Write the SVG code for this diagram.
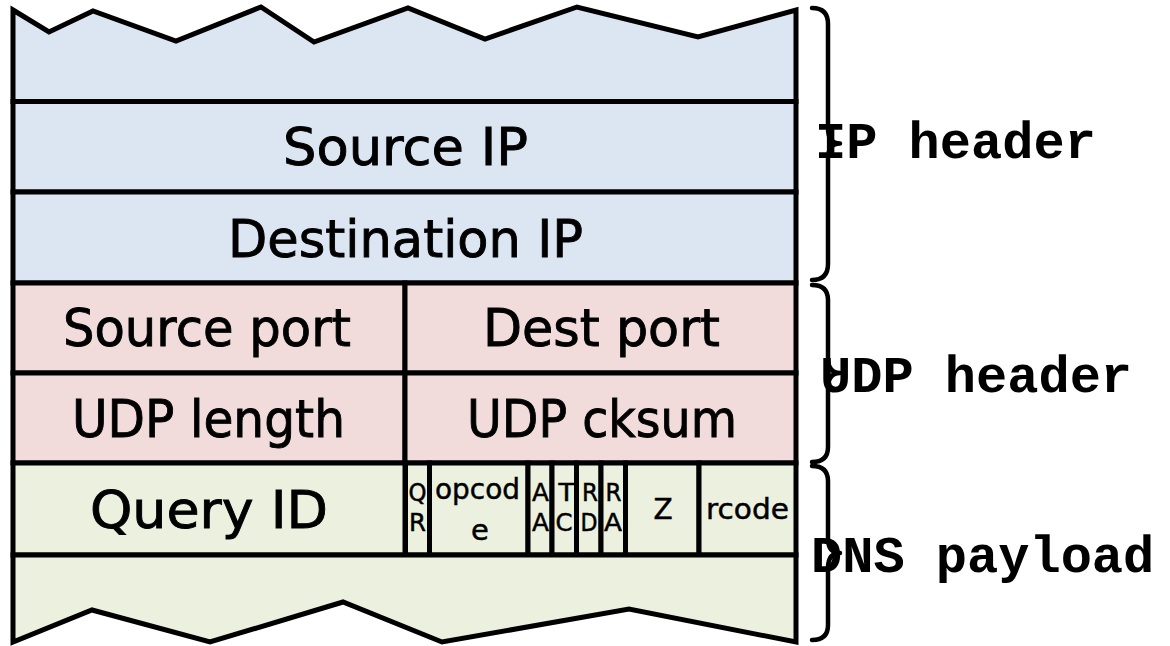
<svg xmlns="http://www.w3.org/2000/svg" width="1170" height="646" viewBox="0 0 1170 646">
  <style>
    .cell { stroke: #000; stroke-width: 5; stroke-linejoin: miter; }
    .ip { fill: #DCE6F2; }
    .udp { fill: #F2DCDB; }
    .dns { fill: #EBF1DE; }
    .lbl { font-family: "DejaVu Sans", "Noto Sans", sans-serif; font-size: 52px; fill: #000; stroke: #000; stroke-width: 0.9; text-anchor: middle; }
    .flag { font-family: "DejaVu Sans", "Noto Sans", sans-serif; font-size: 29px; fill: #000; stroke: #000; stroke-width: 0.5; text-anchor: middle; }
    .bit { font-family: "DejaVu Sans", "Noto Sans", sans-serif; font-size: 24.5px; fill: #000; stroke: #000; stroke-width: 0.5; text-anchor: middle; }
    .brace { fill: none; stroke: #000; stroke-width: 4.5; stroke-linecap: round; stroke-linejoin: round; }
    .tag { font-family: "Liberation Mono", "Courier New", monospace; font-size: 52px; font-weight: bold; fill: #000; }
  </style>

  <!-- IP header -->
  <g id="ip-rest">
    <polygon class="cell ip" points="13,10 49,32 93,11 176,41 261,7 314,42 408,8 485,39 577,7 698,37 796,10 796,101.5 13,101.5"/>
  </g>
  <g id="source-ip">
    <rect class="cell ip" x="13" y="101.5" width="783" height="90.5"/>
    <text class="lbl" x="405.5" y="165" textLength="245" lengthAdjust="spacingAndGlyphs">Source IP</text>
  </g>
  <g id="destination-ip">
    <rect class="cell ip" x="13" y="192" width="783" height="91"/>
    <text class="lbl" x="405.5" y="257" textLength="355" lengthAdjust="spacingAndGlyphs">Destination IP</text>
  </g>

  <!-- UDP header -->
  <g id="source-port">
    <rect class="cell udp" x="13" y="283" width="392" height="90"/>
    <text class="lbl" x="207" y="346" textLength="288" lengthAdjust="spacingAndGlyphs">Source port</text>
  </g>
  <g id="dest-port">
    <rect class="cell udp" x="405" y="283" width="391" height="90"/>
    <text class="lbl" x="601.5" y="346" textLength="237" lengthAdjust="spacingAndGlyphs">Dest port</text>
  </g>
  <g id="udp-length">
    <rect class="cell udp" x="13" y="373" width="392" height="90"/>
    <text class="lbl" x="208.5" y="437" textLength="273" lengthAdjust="spacingAndGlyphs">UDP length</text>
  </g>
  <g id="udp-cksum">
    <rect class="cell udp" x="405" y="373" width="391" height="90"/>
    <text class="lbl" x="602" y="437" textLength="270" lengthAdjust="spacingAndGlyphs">UDP cksum</text>
  </g>

  <!-- DNS payload: header word, flags split into narrow stacked columns -->
  <g id="query-id">
    <rect class="cell dns" x="13" y="463" width="392" height="92"/>
    <text class="lbl" x="209" y="528" textLength="238" lengthAdjust="spacingAndGlyphs">Query ID</text>
  </g>
  <g id="qr">
    <rect class="cell dns" x="405.5" y="463" width="24" height="92"/>
    <text class="bit" x="417.5" y="501" textLength="18" lengthAdjust="spacingAndGlyphs">Q</text>
    <text class="bit" x="417.5" y="530.5" textLength="17" lengthAdjust="spacingAndGlyphs">R</text>
  </g>
  <g id="opcode">
    <rect class="cell dns" x="429.5" y="463" width="98.5" height="92"/>
    <text class="flag" x="477.5" y="499" textLength="85" lengthAdjust="spacingAndGlyphs">opcod</text>
    <text class="flag" x="480" y="540">e</text>
  </g>
  <g id="aa">
    <rect class="cell dns" x="528" y="463" width="24" height="92"/>
    <text class="bit" x="540.5" y="501" textLength="17" lengthAdjust="spacingAndGlyphs">A</text>
    <text class="bit" x="540.5" y="530.5" textLength="17" lengthAdjust="spacingAndGlyphs">A</text>
  </g>
  <g id="tc">
    <rect class="cell dns" x="552" y="463" width="24.5" height="92"/>
    <text class="bit" x="566.5" y="501" textLength="16" lengthAdjust="spacingAndGlyphs">T</text>
    <text class="bit" x="564" y="530.5" textLength="17" lengthAdjust="spacingAndGlyphs">C</text>
  </g>
  <g id="rd">
    <rect class="cell dns" x="576.5" y="463" width="24.5" height="92"/>
    <text class="bit" x="590" y="501" textLength="16" lengthAdjust="spacingAndGlyphs">R</text>
    <text class="bit" x="589" y="530.5" textLength="17" lengthAdjust="spacingAndGlyphs">D</text>
  </g>
  <g id="ra">
    <rect class="cell dns" x="601" y="463" width="24.5" height="92"/>
    <text class="bit" x="613.5" y="501" textLength="16" lengthAdjust="spacingAndGlyphs">R</text>
    <text class="bit" x="613" y="530.5" textLength="18" lengthAdjust="spacingAndGlyphs">A</text>
  </g>
  <g id="z">
    <rect class="cell dns" x="625.5" y="463" width="73.5" height="92"/>
    <text class="flag" x="663" y="519" style="font-size:28px">Z</text>
  </g>
  <g id="rcode">
    <rect class="cell dns" x="699" y="463" width="97" height="92"/>
    <text class="flag" x="747.5" y="519" textLength="83" lengthAdjust="spacingAndGlyphs">rcode</text>
  </g>
  <g id="dns-rest">
    <polygon class="cell dns" points="13,555 796,555 796,642 629,609 442,642 343,602 210,642 92,610 13,642"/>
  </g>

  <!-- Layer braces and their captions -->
  <g id="connectors">
    <path class="brace" d="M812,8 Q828,8 828,24 L828,128 Q828,143.5 840,143.5 Q828,143.5 828,159 L828,264 Q828,280 812,280"/>
    <path class="brace" d="M812,285 Q828,285 828,300 L828,358 Q828,373 840,373 Q828,373 828,388 L828,447 Q828,462 812,462"/>
    <path class="brace" d="M812,466 Q828,466 828,481 L828,538 Q828,553 840,553 Q828,553 828,568 L828,625 Q828,640 812,640"/>
  </g>
  <g id="ip-header-label">
    <text class="tag" x="815" y="158">IP header</text>
  </g>
  <g id="udp-header-label">
    <text class="tag" x="820" y="392">UDP header</text>
  </g>
  <g id="dns-payload-label">
    <text class="tag" x="811" y="572">DNS payload</text>
  </g>
</svg>
